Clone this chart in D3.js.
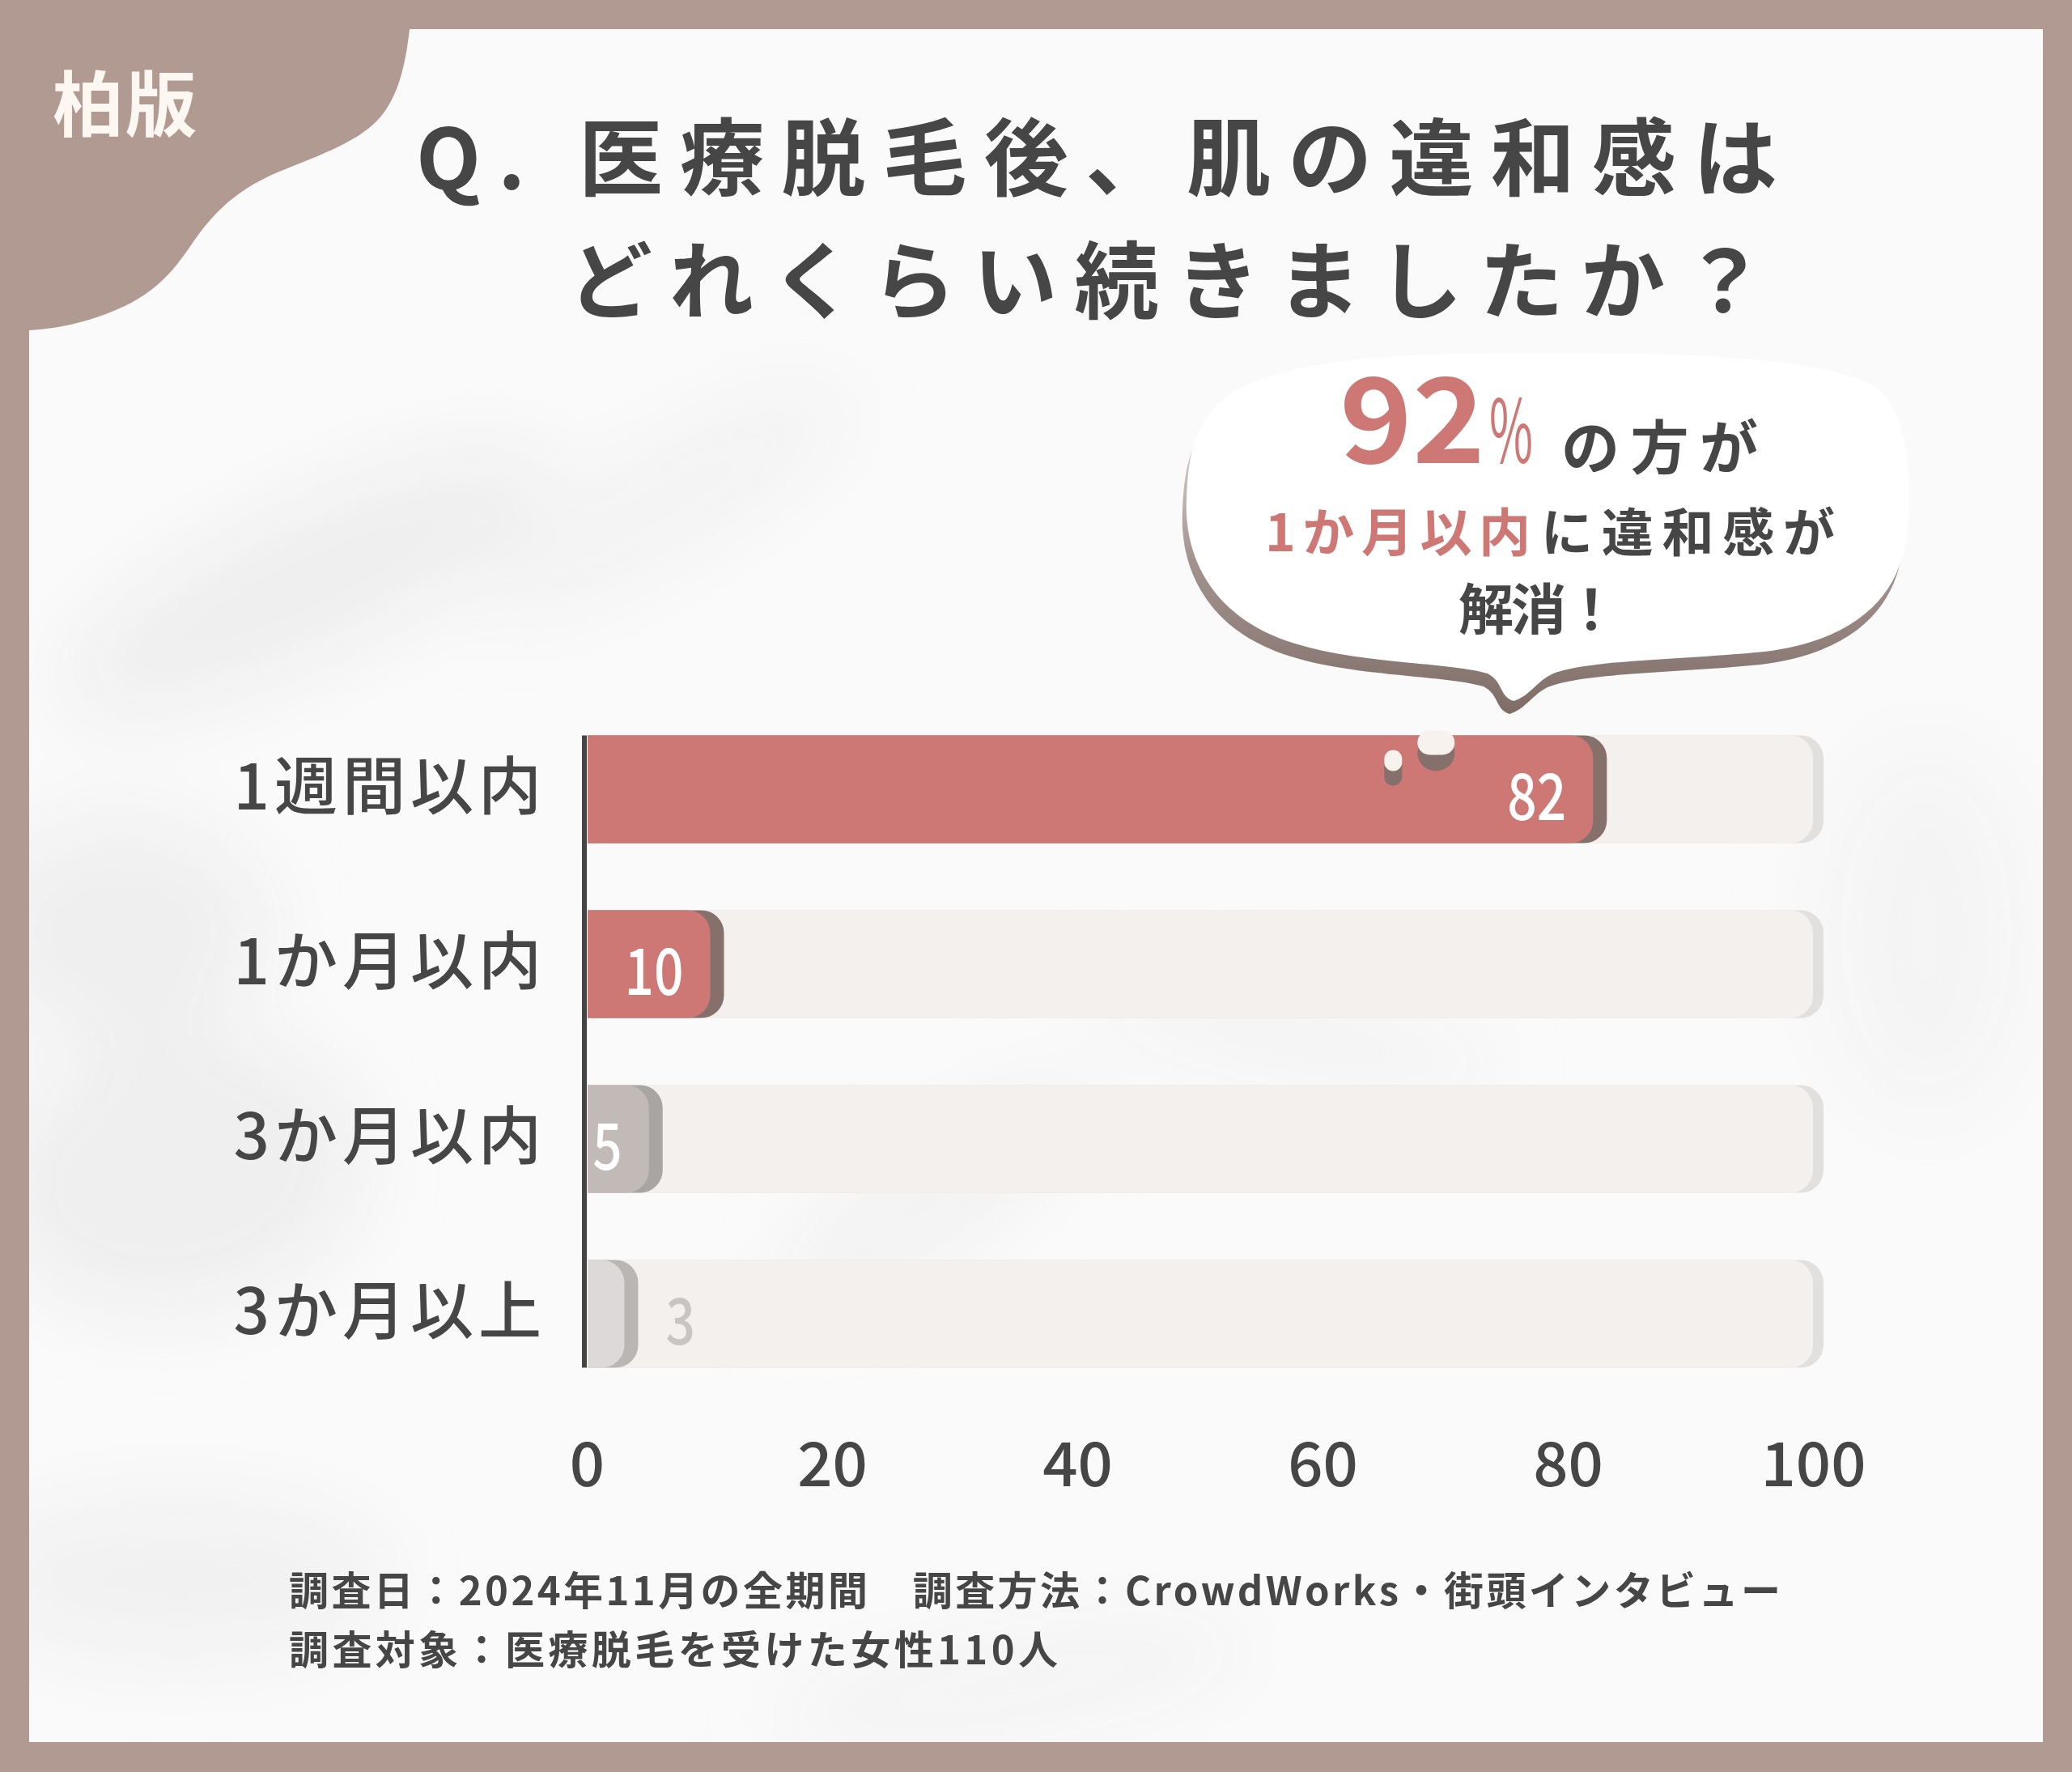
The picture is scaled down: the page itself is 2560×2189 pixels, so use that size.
<!DOCTYPE html>
<html><head><meta charset="utf-8">
<script src="https://cdn.jsdelivr.net/npm/d3@7"></script>
<style>
html,body{margin:0;padding:0;background:#b09a91;}
svg{display:block;}
text{font-family:"Noto Sans CJK JP","Noto Sans",sans-serif;}
</style></head><body>
<svg id="c" width="2560" height="2189"></svg>
<script>
// ---- data ----
const categories = ["1週間以内", "1か月以内", "3か月以内", "3か月以上"];
const values = [82, 10, 5, 3];
const xTicks = [0, 20, 40, 60, 80, 100];
const badge = "柏版";
const titleLines = ["Q. 医療脱毛後、肌の違和感は", "どれくらい続きましたか？"];
const calloutPct = "92";
const footerLines = [
  "調査日：2024年11月の全期間　調査方法：CrowdWorks・街頭インタビュー",
  "調査対象：医療脱毛を受けた女性110人"
];

// ---- styles ----
const frameCol = "#b09a91";
const darkText = "#464646";
const pink = "#cd7875";
const barFill = ["#cd7875", "#cd7875", "#c1bab7", "#dcd9d8"];
const barShadow = ["#85706b", "#85706b", "#a9a5a3", "#bab6b3"];
const labelFill = ["#ffffff", "#ffffff", "#ffffff", "#c9c5c3"];

const W = 2560, H = 2189;
const svg = d3.select("#c");
const defs = svg.append("defs");

defs.append("filter").attr("id", "blur").attr("x", "-50%").attr("y", "-50%").attr("width", "200%").attr("height", "200%")
  .append("feGaussianBlur").attr("stdDeviation", 50);
defs.append("clipPath").attr("id", "panelClip")
  .append("rect").attr("x", 36).attr("y", 36).attr("width", 2488).attr("height", 2116);
const sg = defs.append("linearGradient").attr("id", "bubShadow").attr("x1", 0).attr("y1", 0).attr("x2", 0).attr("y2", 1);
sg.append("stop").attr("offset", "0%").attr("stop-color", "#b5a6a1").attr("stop-opacity", 0.25);
sg.append("stop").attr("offset", "55%").attr("stop-color", "#8d7a75").attr("stop-opacity", 0.8);
sg.append("stop").attr("offset", "100%").attr("stop-color", "#7f6c67");

// frame
svg.append("rect").attr("width", W).attr("height", H).attr("fill", frameCol);
svg.append("rect").attr("x", 36).attr("y", 36).attr("width", 2488).attr("height", 2116).attr("fill", "#fafafa");

// soft background wisps
const wisps = svg.append("g").attr("clip-path", "url(#panelClip)").append("g").attr("filter", "url(#blur)");
[[380, 720, 330, 90, -25, "#e6e6e6", 0.6], [150, 1150, 180, 140, 0, "#e8e8e8", 0.6], [220, 1450, 230, 170, -10, "#e6e6e6", 0.55],
 [820, 620, 260, 60, -30, "#ebebeb", 0.5], [1150, 1480, 230, 55, -35, "#e8e8e8", 0.5], [220, 1950, 260, 100, 0, "#eaeaea", 0.5],
 [1600, 1280, 260, 45, 10, "#eeeeee", 0.5], [2380, 1150, 130, 230, 0, "#f0f0f0", 0.5], [1250, 2080, 300, 55, -10, "#eeeeee", 0.5]]
 .forEach(d => wisps.append("ellipse").attr("cx", d[0]).attr("cy", d[1]).attr("rx", d[2]).attr("ry", d[3])
   .attr("transform", `rotate(${d[4]},${d[0]},${d[1]})`).attr("fill", d[5]).attr("opacity", d[6]));

// top-left blob
svg.append("path").attr("fill", frameCol)
  .attr("d", "M0,0 L520,0 L506,36 C502,70 495,120 465,150 C440,175 400,190 345,212 C290,235 262,265 238,300 C205,350 175,375 110,395 C80,404 55,407 36,408 L0,410 Z");
svg.append("text").attr("x", 155).attr("y", 122).attr("text-anchor", "middle").attr("dominant-baseline", "central")
  .attr("font-size", 88).attr("font-weight", 700).attr("fill", "#fdf7f2").attr("letter-spacing", 2).text(badge);

// title
svg.append("text").attr("x", 514).attr("y", 188).attr("dominant-baseline", "central")
  .attr("font-size", 104).attr("font-weight", 700).attr("fill", darkText)
  .attr("textLength", 1682).attr("lengthAdjust", "spacing").text(titleLines[0]);
svg.append("text").attr("x", 702).attr("y", 340).attr("dominant-baseline", "central")
  .attr("font-size", 104).attr("font-weight", 700).attr("fill", darkText)
  .attr("textLength", 1480).attr("lengthAdjust", "spacing").text(titleLines[1]);

// speech bubble
const bub = "M1495,510 C1545,445 1700,436 1900,436 C2100,436 2265,442 2322,482 C2356,510 2362,585 2357,650 " +
  "C2352,730 2300,790 2180,805 C2080,815 1960,815 1917,833 C1897,843 1890,860 1870,866 C1852,860 1858,843 1838,832 " +
  "C1790,818 1680,820 1600,795 C1500,765 1462,690 1466,615 C1468,565 1475,535 1495,510 Z";
svg.append("path").attr("d", bub).attr("fill", "url(#bubShadow)").attr("transform", "translate(-5,16)");
svg.append("path").attr("d", bub).attr("fill", "#ffffff");

const b1 = svg.append("g");
b1.append("text").attr("x", 1655).attr("y", 572).attr("font-family", '"Liberation Sans",Arimo,sans-serif')
  .attr("font-size", 146).attr("font-weight", 700).attr("fill", pink)
  .attr("textLength", 180).attr("lengthAdjust", "spacingAndGlyphs").text(calloutPct);
b1.append("text").attr("x", 1840).attr("y", 572).attr("font-family", '"Liberation Sans",Arimo,sans-serif')
  .attr("font-size", 108).attr("font-weight", 400).attr("fill", pink)
  .attr("textLength", 54).attr("lengthAdjust", "spacingAndGlyphs").text("%");
b1.append("text").attr("x", 1929).attr("y", 547).attr("dominant-baseline", "central").attr("font-size", 72).attr("font-weight", 700)
  .attr("fill", darkText).attr("textLength", 243).attr("lengthAdjust", "spacing").text("の方が");
b1.append("text").attr("x", 1563).attr("y", 653).attr("dominant-baseline", "central").attr("font-size", 64).attr("font-weight", 700)
  .attr("fill", pink).attr("textLength", 328).attr("lengthAdjust", "spacing").text("1か月以内");
b1.append("text").attr("x", 1904).attr("y", 653).attr("dominant-baseline", "central").attr("font-size", 64).attr("font-weight", 700)
  .attr("fill", darkText).attr("textLength", 363).attr("lengthAdjust", "spacing").text("に違和感が");
b1.append("text").attr("x", 1802).attr("y", 748).attr("dominant-baseline", "central").attr("font-size", 68).attr("font-weight", 700)
  .attr("fill", darkText).attr("textLength", 198).attr("lengthAdjust", "spacing").text("解消！");

// ---- chart ----
const x = d3.scaleLinear().domain([0, 100]).range([725, 2240]);
const y = d3.scaleBand().domain(categories).range([825.5, 1772.5]).padding(0.384);
const bw = y.bandwidth();
const rad = 28;
function rr(x0, x1, y0, h, r) {
  r = Math.min(r, x1 - x0, h / 2);
  return `M${x0},${y0}H${x1 - r}A${r},${r} 0 0 1 ${x1},${y0 + r}V${y0 + h - r}A${r},${r} 0 0 1 ${x1 - r},${y0 + h}H${x0}Z`;
}
const bx0 = x(0) + 1;
const chart = svg.append("g");

// tracks
const rows = categories.map((c, i) => ({ c, v: values[i], i }));
chart.selectAll(".trkS").data(rows).join("path").attr("fill", "#e2e0df")
  .attr("d", d => rr(bx0, x(100) + 13, y(d.c), bw, rad));
chart.selectAll(".trk").data(rows).join("path").attr("fill", "#f4f0ed")
  .attr("d", d => rr(bx0, x(100), y(d.c), bw, rad));

// bars
chart.selectAll(".barS").data(rows).join("path").attr("fill", d => barShadow[d.i])
  .attr("d", d => rr(bx0, x(d.v) + 18, y(d.c), bw, rad));
chart.selectAll(".bar").data(rows).join("path").attr("fill", d => barFill[d.i])
  .attr("d", d => rr(bx0, x(d.v) + 1, y(d.c), bw, rad));

// decorative drips on the top bar
const topRow = rows[0];
const dg = chart.append("g");
dg.append("rect").attr("x", x(topRow.v) - 216).attr("y", y(topRow.c)).attr("width", 46).attr("height", 44).attr("rx", 23).attr("fill", "#85706b");
dg.append("rect").attr("x", x(topRow.v) - 216).attr("y", y(topRow.c) - 6).attr("width", 46).attr("height", 30).attr("rx", 15).attr("fill", "#f7f2ee");
dg.append("rect").attr("x", x(topRow.v) - 257).attr("y", y(topRow.c) + 20).attr("width", 22).attr("height", 42).attr("rx", 11).attr("fill", "#85706b");
dg.append("rect").attr("x", x(topRow.v) - 257).attr("y", y(topRow.c) + 18).attr("width", 22).attr("height", 26).attr("rx", 11).attr("fill", "#f7f2ee");

// value labels
chart.selectAll(".val").data(rows).join("text")
  .attr("transform", d => d.v >= 5
      ? `translate(${x(d.v) - 32},${y(d.c) + bw / 2 + 3}) scale(0.8,1)`
      : `translate(${x(d.v) + 52},${y(d.c) + bw / 2 + 3}) scale(0.8,1)`)
  .attr("text-anchor", d => d.v >= 5 ? "end" : "start")
  .attr("dominant-baseline", "central")
  .attr("font-size", 80).attr("font-weight", 500)
  .attr("fill", d => labelFill[d.i]).text(d => d.v);

// y axis (labels) and axis line
const yAxis = chart.append("g").attr("transform", `translate(${x(0)},0)`)
  .call(d3.axisLeft(y).tickSize(0).tickPadding(50));
yAxis.select(".domain").remove();
yAxis.selectAll("text").attr("font-size", 78).attr("font-weight", 500).attr("fill", darkText)
  .attr("letter-spacing", 6).attr("font-family", '"Noto Sans CJK JP",sans-serif');
chart.append("line").attr("x1", x(0) - 3).attr("x2", x(0) - 3)
  .attr("y1", y(categories[0])).attr("y2", y(categories[categories.length - 1]) + bw)
  .attr("stroke", "#454545").attr("stroke-width", 6);

// x axis labels
const xAxis = chart.append("g").attr("transform", `translate(0,1770)`)
  .call(d3.axisBottom(x).tickValues(xTicks).tickSize(0).tickPadding(0));
xAxis.select(".domain").remove();
xAxis.selectAll("text").attr("font-size", 76).attr("font-weight", 500).attr("fill", darkText)
  .attr("dy", null).attr("dominant-baseline", "central").attr("y", 33)
  .attr("font-family", '"Noto Sans CJK JP",sans-serif');

// footer
svg.append("text").attr("x", 357).attr("y", 1961).attr("dominant-baseline", "central")
  .attr("font-size", 49).attr("font-weight", 700).attr("fill", darkText)
  .attr("textLength", 1843).attr("lengthAdjust", "spacing").text(footerLines[0]);
svg.append("text").attr("x", 357).attr("y", 2034).attr("dominant-baseline", "central")
  .attr("font-size", 49).attr("font-weight", 700).attr("fill", darkText)
  .attr("textLength", 950).attr("lengthAdjust", "spacing").text(footerLines[1]);
</script>
</body></html>
